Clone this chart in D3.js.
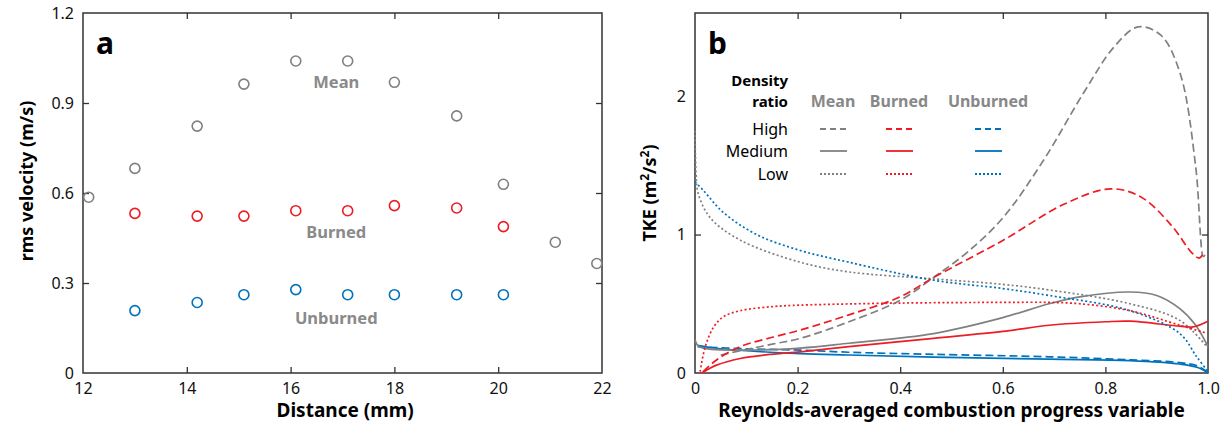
<!DOCTYPE html>
<html>
<head>
<meta charset="utf-8">
<script src="https://cdn.jsdelivr.net/npm/d3@7"></script>
<style>
  body { margin: 0; background: #fff; }
  svg text { font-family: "Noto Sans", "Open Sans", sans-serif; }
  .tick text { font-size: 16px; fill: #111; }
  .tick line { stroke: #333; stroke-width: 1.3; }
</style>
</head>
<body>
<div id="chart"></div>
<script>
// ---- panel a: rms velocity vs distance ----
var distMean = [12.11, 13.0, 14.2, 15.1, 16.1, 17.1, 18.0, 19.2, 20.1, 21.1, 21.9];
var rmsMean = [0.586, 0.682, 0.823, 0.963, 1.04, 1.04, 0.969, 0.857, 0.629, 0.436, 0.365];
var distBU = [13.0, 14.2, 15.1, 16.1, 17.1, 18.0, 19.2, 20.1];
var rmsBurned = [0.532, 0.523, 0.523, 0.541, 0.541, 0.558, 0.55, 0.488];
var rmsUnburned = [0.208, 0.235, 0.261, 0.278, 0.261, 0.261, 0.261, 0.261];
var aTicksX = [12, 14, 16, 18, 20, 22];
var aTicksY = [0, 0.3, 0.6, 0.9, 1.2];

// ---- panel b: TKE vs progress variable, [c, tke] ----
var meanHigh = [[0.05, 0.13], [0.1, 0.17], [0.153, 0.21], [0.205, 0.25], [0.3, 0.37], [0.4, 0.525],
  [0.465, 0.69], [0.53, 0.87], [0.6, 1.12], [0.68, 1.54], [0.757, 2.02], [0.818, 2.36],
  [0.864, 2.5], [0.908, 2.44], [0.946, 2.16], [0.976, 1.49], [0.991, 0.84], [0.995, 0.86]];
var meanMedium = [[0, 0.24], [0.005, 0.2], [0.016, 0.18], [0.088, 0.165], [0.205, 0.18], [0.3, 0.215],
  [0.465, 0.285], [0.6, 0.40], [0.69, 0.50], [0.75, 0.55], [0.848, 0.585], [0.9, 0.56],
  [0.945, 0.465], [0.975, 0.35], [1.0, 0.19]];
var meanLow = [[0, 1.75], [0.002, 1.45], [0.006, 1.3], [0.03, 1.12], [0.088, 0.96], [0.205, 0.80],
  [0.3, 0.73], [0.465, 0.68], [0.6, 0.64], [0.69, 0.60], [0.848, 0.50], [0.945, 0.38], [1.0, 0.18]];
var burnedHigh = [[0.016, 0.01], [0.042, 0.094], [0.088, 0.19], [0.153, 0.26], [0.205, 0.31],
  [0.3, 0.42], [0.4, 0.55], [0.465, 0.69], [0.6, 0.957], [0.72, 1.22], [0.81, 1.33], [0.87, 1.27],
  [0.93, 1.06], [0.968, 0.87], [0.983, 0.83], [0.99, 0.86]];
var burnedMedium = [[0.013, 0], [0.042, 0.057], [0.088, 0.105], [0.153, 0.137], [0.205, 0.153],
  [0.3, 0.19], [0.465, 0.25], [0.6, 0.30], [0.69, 0.345], [0.8, 0.37], [0.848, 0.374],
  [0.945, 0.338], [0.971, 0.333], [1.0, 0.374]];
var burnedLow = [[0.01, 0.01], [0.02, 0.19], [0.036, 0.33], [0.055, 0.405], [0.088, 0.45],
  [0.153, 0.48], [0.205, 0.49], [0.4, 0.505], [0.6, 0.51], [0.69, 0.51], [0.75, 0.50],
  [0.848, 0.45], [0.945, 0.345], [0.995, 0.29]];
var unburnedHigh = [[0.005, 0.19], [0.1, 0.175], [0.205, 0.165], [0.3, 0.15], [0.465, 0.135],
  [0.69, 0.117], [0.848, 0.095], [0.945, 0.075], [0.98, 0.05], [1.0, 0.005]];
var unburnedMedium = [[0.005, 0.2], [0.05, 0.175], [0.205, 0.14], [0.3, 0.13], [0.465, 0.115],
  [0.69, 0.10], [0.848, 0.09], [0.945, 0.065], [0.98, 0.04], [1.0, 0.0]];
var unburnedLow = [[0, 1.38], [0.016, 1.32], [0.055, 1.16], [0.12, 1.0], [0.205, 0.885], [0.3, 0.80],
  [0.465, 0.67], [0.6, 0.61], [0.69, 0.56], [0.848, 0.45], [0.945, 0.285], [0.978, 0.117], [1.0, 0.01]];
var bTicksX = [0, 0.2, 0.4, 0.6, 0.8, 1.0];
var bTicksY = [0, 1, 2];

var groups = ["Mean", "Burned", "Unburned"];
var ratios = ["High", "Medium", "Low"];

var GRAY = "#808080", RED = "#ed1c24", BLUE = "#0072bc";
var colors = { Mean: GRAY, Burned: RED, Unburned: BLUE };
var dashes = { High: "8,4", Medium: null, Low: "2,2.4" };
var legendDashes = { High: "6,4", Medium: null, Low: "2,2" };

var svg = d3.select("#chart").append("svg")
  .attr("width", 1225)
  .attr("height", 435);

function frame(x, y) {
  var r = x.range(), h = y.range();
  svg.append("rect")
    .attr("x", r[0]).attr("y", h[1])
    .attr("width", r[1] - r[0]).attr("height", h[0] - h[1])
    .attr("fill", "none").attr("stroke", "#333").attr("stroke-width", 1.5);
}

function axes(x, y, xt, yt, xfmt, yfmt) {
  var r = x.range(), h = y.range();
  var bottom = svg.append("g").attr("transform", "translate(0," + h[0] + ")")
    .call(d3.axisBottom(x).tickValues(xt).tickFormat(xfmt).tickSizeInner(-6).tickSizeOuter(0).tickPadding(10));
  var left = svg.append("g").attr("transform", "translate(" + r[0] + ",0)")
    .call(d3.axisLeft(y).tickValues(yt).tickFormat(yfmt).tickSizeInner(-6).tickSizeOuter(0).tickPadding(9));
  var top = svg.append("g").attr("transform", "translate(0," + h[1] + ")")
    .call(d3.axisTop(x).tickValues(xt.slice(1, -1)).tickFormat("").tickSizeInner(-6).tickSizeOuter(0));
  var right = svg.append("g").attr("transform", "translate(" + r[1] + ",0)")
    .call(d3.axisRight(y).tickValues(yt.slice(1, -1)).tickFormat("").tickSizeInner(-6).tickSizeOuter(0));
  [bottom, left, top, right].forEach(function(g) { g.select(".domain").remove(); });
  bottom.selectAll(".tick").filter(function(d) { return d === xt[0] || d === xt[xt.length - 1]; })
    .select("line").remove();
  left.selectAll(".tick").filter(function(d) { return d === yt[0] || d === yt[yt.length - 1]; })
    .select("line").remove();
}

// ================= panel a =================
var xa = d3.scaleLinear().domain([12, 22]).range([83, 602]);
var ya = d3.scaleLinear().domain([0, 1.2]).range([373, 13]);

axes(xa, ya, aTicksX, aTicksY, d3.format("d"), function(d) { return d === 0 ? "0" : d3.format(".1f")(d); });
frame(xa, ya);

function dots(xs, ys, color) {
  svg.append("g").selectAll("circle")
    .data(xs.map(function(d, i) { return [d, ys[i]]; }))
    .enter().append("circle")
    .attr("cx", function(d) { return xa(d[0]); })
    .attr("cy", function(d) { return ya(d[1]); })
    .attr("r", 5)
    .attr("fill", "none")
    .attr("stroke", color)
    .attr("stroke-width", 1.6);
}
dots(distMean, rmsMean, GRAY);
dots(distBU, rmsBurned, RED);
dots(distBU, rmsUnburned, BLUE);

[["Mean", 0.95], ["Burned", 0.45], ["Unburned", 0.165]].forEach(function(l) {
  svg.append("text")
    .attr("x", xa(16.88)).attr("y", ya(l[1]))
    .attr("text-anchor", "middle")
    .attr("font-size", 16.5).attr("font-weight", "bold")
    .attr("fill", "#8a8a8a")
    .text(l[0]);
});

svg.append("text").attr("x", 96).attr("y", 54)
  .attr("font-size", 30).attr("font-weight", "bold").text("a");

svg.append("text")
  .attr("x", xa(17.05)).attr("y", 417)
  .attr("text-anchor", "middle")
  .attr("font-size", 19).attr("font-weight", "bold")
  .text("Distance (mm)");

svg.append("text")
  .attr("transform", "translate(33," + ya(0.64) + ") rotate(-90)")
  .attr("text-anchor", "middle")
  .attr("font-size", 18).attr("font-weight", "bold")
  .text("rms velocity (m/s)");

// ================= panel b =================
var xb = d3.scaleLinear().domain([0, 1]).range([695, 1208]);
var yb = d3.scaleLinear().domain([0, 2.6]).range([373, 13]);

axes(xb, yb, bTicksX, bTicksY, function(d) { return d === 0 ? "0" : d3.format(".1f")(d); }, d3.format("d"));
frame(xb, yb);

var line = d3.line()
  .x(function(d) { return xb(d[0]); })
  .y(function(d) { return yb(d[1]); })
  .curve(d3.curveCatmullRom.alpha(0.5));

var series = [
  ["Unburned", "Medium", unburnedMedium],
  ["Unburned", "High", unburnedHigh],
  ["Mean", "Medium", meanMedium],
  ["Burned", "Medium", burnedMedium],
  ["Mean", "Low", meanLow],
  ["Unburned", "Low", unburnedLow],
  ["Burned", "Low", burnedLow],
  ["Mean", "High", meanHigh],
  ["Burned", "High", burnedHigh]
];

svg.append("g").selectAll("path")
  .data(series)
  .enter().append("path")
  .attr("d", function(d) { return line(d[2]); })
  .attr("fill", "none")
  .attr("stroke", function(d) { return colors[d[0]]; })
  .attr("stroke-width", 1.7)
  .attr("stroke-dasharray", function(d) { return dashes[d[1]]; });

svg.append("text").attr("x", 708).attr("y", 54)
  .attr("font-size", 30).attr("font-weight", "bold").text("b");

// legend
var lg = svg.append("g");
lg.append("text").attr("x", 788).attr("y", 86).attr("text-anchor", "end")
  .attr("font-size", 15).attr("font-weight", "bold").text("Density");
lg.append("text").attr("x", 788).attr("y", 107).attr("text-anchor", "end")
  .attr("font-size", 15).attr("font-weight", "bold").text("ratio");

var colX = { Mean: 833, Burned: 899, Unburned: 988 };
groups.forEach(function(g) {
  lg.append("text").attr("x", colX[g]).attr("y", 107).attr("text-anchor", "middle")
    .attr("font-size", 16).attr("font-weight", "bold").attr("fill", "#888").text(g);
});
var rowY = { High: 129, Medium: 151, Low: 174 };
ratios.forEach(function(r) {
  lg.append("text").attr("x", 788).attr("y", rowY[r] + 6).attr("text-anchor", "end")
    .attr("font-size", 16).text(r);
  groups.forEach(function(g) {
    lg.append("line")
      .attr("x1", colX[g] - 13).attr("x2", colX[g] + 14)
      .attr("y1", rowY[r]).attr("y2", rowY[r])
      .attr("stroke", colors[g]).attr("stroke-width", 1.8)
      .attr("stroke-dasharray", legendDashes[r]);
  });
});

svg.append("text")
  .attr("x", xb(0.5)).attr("y", 417)
  .attr("text-anchor", "middle")
  .attr("font-size", 19).attr("font-weight", "bold")
  .text("Reynolds-averaged combustion progress variable");

var tke = svg.append("text")
  .attr("transform", "translate(656," + yb(1.3) + ") rotate(-90)")
  .attr("text-anchor", "middle")
  .attr("font-size", 18).attr("font-weight", "bold");
tke.append("tspan").text("TKE (m");
tke.append("tspan").attr("font-size", 12).attr("dy", -7).text("2");
tke.append("tspan").attr("dy", 7).text("/s");
tke.append("tspan").attr("font-size", 12).attr("dy", -7).text("2");
tke.append("tspan").attr("dy", 7).text(")");
</script>
</body>
</html>
